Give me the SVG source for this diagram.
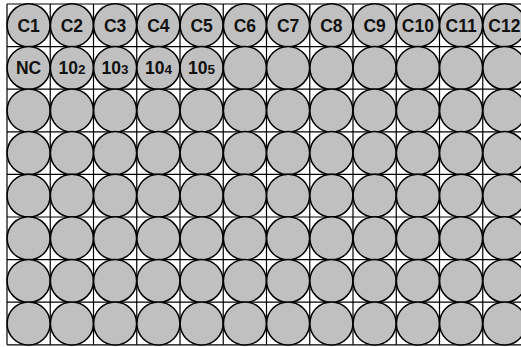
<svg xmlns="http://www.w3.org/2000/svg" width="521" height="347" viewBox="0 0 521 347">
<style>
.grid{stroke:#000;stroke-width:1.2;fill:none}
.well{fill:#c0c0c0;stroke:#000;stroke-width:1.5}
.lbl{font-family:"Liberation Sans",Arial,sans-serif;font-weight:bold;font-size:17.5px;text-anchor:middle;fill:#111}
.sub{font-size:13.5px}
</style>
<rect width="521" height="347" fill="#fff"/>
<g id="grid" class="grid">
<path d="M7,4V344.8M50.25,4V344.8M93.5,4V344.8M136.75,4V344.8M180,4V344.8M223.25,4V344.8M266.5,4V344.8M309.75,4V344.8M353,4V344.8M396.25,4V344.8M439.5,4V344.8M482.75,4V344.8M526,4V344.8"/>
<path d="M7,4H526M7,46.6H526M7,89.2H526M7,131.8H526M7,174.4H526M7,217H526M7,259.6H526M7,302.2H526M7,344.8H526"/>
</g>
<g id="connectors"></g>
<g id="row1">
<g id="C1"><circle class="well" cx="28.6" cy="25.3" r="21.5"/><text class="lbl" x="28.6" y="31.5">C1</text></g>
<g id="C2"><circle class="well" cx="71.9" cy="25.3" r="21.5"/><text class="lbl" x="71.9" y="31.5">C2</text></g>
<g id="C3"><circle class="well" cx="115.1" cy="25.3" r="21.5"/><text class="lbl" x="115.1" y="31.5">C3</text></g>
<g id="C4"><circle class="well" cx="158.4" cy="25.3" r="21.5"/><text class="lbl" x="158.4" y="31.5">C4</text></g>
<g id="C5"><circle class="well" cx="201.6" cy="25.3" r="21.5"/><text class="lbl" x="201.6" y="31.5">C5</text></g>
<g id="C6"><circle class="well" cx="244.9" cy="25.3" r="21.5"/><text class="lbl" x="244.9" y="31.5">C6</text></g>
<g id="C7"><circle class="well" cx="288.1" cy="25.3" r="21.5"/><text class="lbl" x="288.1" y="31.5">C7</text></g>
<g id="C8"><circle class="well" cx="331.4" cy="25.3" r="21.5"/><text class="lbl" x="331.4" y="31.5">C8</text></g>
<g id="C9"><circle class="well" cx="374.6" cy="25.3" r="21.5"/><text class="lbl" x="374.6" y="31.5">C9</text></g>
<g id="C10"><circle class="well" cx="417.9" cy="25.3" r="21.5"/><text class="lbl" x="417.9" y="31.5">C10</text></g>
<g id="C11"><circle class="well" cx="461.1" cy="25.3" r="21.5"/><text class="lbl" x="461.1" y="31.5">C11</text></g>
<g id="C12"><circle class="well" cx="504.4" cy="25.3" r="21.5"/><text class="lbl" x="504.4" y="31.5">C12</text></g>
</g>
<g id="row2">
<g id="NC"><circle class="well" cx="28.6" cy="67.9" r="21.5"/><text class="lbl" x="28.6" y="74.1">NC</text></g>
<g id="d102"><circle class="well" cx="71.9" cy="67.9" r="21.5"/><text class="lbl" x="71.9" y="74.1">10<tspan class="sub">2</tspan></text></g>
<g id="d103"><circle class="well" cx="115.1" cy="67.9" r="21.5"/><text class="lbl" x="115.1" y="74.1">10<tspan class="sub">3</tspan></text></g>
<g id="d104"><circle class="well" cx="158.4" cy="67.9" r="21.5"/><text class="lbl" x="158.4" y="74.1">10<tspan class="sub">4</tspan></text></g>
<g id="d105"><circle class="well" cx="201.6" cy="67.9" r="21.5"/><text class="lbl" x="201.6" y="74.1">10<tspan class="sub">5</tspan></text></g>
<g id="B6"><circle class="well" cx="244.9" cy="67.9" r="21.5"/></g>
<g id="B7"><circle class="well" cx="288.1" cy="67.9" r="21.5"/></g>
<g id="B8"><circle class="well" cx="331.4" cy="67.9" r="21.5"/></g>
<g id="B9"><circle class="well" cx="374.6" cy="67.9" r="21.5"/></g>
<g id="B10"><circle class="well" cx="417.9" cy="67.9" r="21.5"/></g>
<g id="B11"><circle class="well" cx="461.1" cy="67.9" r="21.5"/></g>
<g id="B12"><circle class="well" cx="504.4" cy="67.9" r="21.5"/></g>
</g>
<g id="row3">
<g id="R3C1"><circle class="well" cx="28.6" cy="110.5" r="21.5"/></g>
<g id="R3C2"><circle class="well" cx="71.9" cy="110.5" r="21.5"/></g>
<g id="R3C3"><circle class="well" cx="115.1" cy="110.5" r="21.5"/></g>
<g id="R3C4"><circle class="well" cx="158.4" cy="110.5" r="21.5"/></g>
<g id="R3C5"><circle class="well" cx="201.6" cy="110.5" r="21.5"/></g>
<g id="R3C6"><circle class="well" cx="244.9" cy="110.5" r="21.5"/></g>
<g id="R3C7"><circle class="well" cx="288.1" cy="110.5" r="21.5"/></g>
<g id="R3C8"><circle class="well" cx="331.4" cy="110.5" r="21.5"/></g>
<g id="R3C9"><circle class="well" cx="374.6" cy="110.5" r="21.5"/></g>
<g id="R3C10"><circle class="well" cx="417.9" cy="110.5" r="21.5"/></g>
<g id="R3C11"><circle class="well" cx="461.1" cy="110.5" r="21.5"/></g>
<g id="R3C12"><circle class="well" cx="504.4" cy="110.5" r="21.5"/></g>
</g>
<g id="row4">
<g id="R4C1"><circle class="well" cx="28.6" cy="153.1" r="21.5"/></g>
<g id="R4C2"><circle class="well" cx="71.9" cy="153.1" r="21.5"/></g>
<g id="R4C3"><circle class="well" cx="115.1" cy="153.1" r="21.5"/></g>
<g id="R4C4"><circle class="well" cx="158.4" cy="153.1" r="21.5"/></g>
<g id="R4C5"><circle class="well" cx="201.6" cy="153.1" r="21.5"/></g>
<g id="R4C6"><circle class="well" cx="244.9" cy="153.1" r="21.5"/></g>
<g id="R4C7"><circle class="well" cx="288.1" cy="153.1" r="21.5"/></g>
<g id="R4C8"><circle class="well" cx="331.4" cy="153.1" r="21.5"/></g>
<g id="R4C9"><circle class="well" cx="374.6" cy="153.1" r="21.5"/></g>
<g id="R4C10"><circle class="well" cx="417.9" cy="153.1" r="21.5"/></g>
<g id="R4C11"><circle class="well" cx="461.1" cy="153.1" r="21.5"/></g>
<g id="R4C12"><circle class="well" cx="504.4" cy="153.1" r="21.5"/></g>
</g>
<g id="row5">
<g id="R5C1"><circle class="well" cx="28.6" cy="195.7" r="21.5"/></g>
<g id="R5C2"><circle class="well" cx="71.9" cy="195.7" r="21.5"/></g>
<g id="R5C3"><circle class="well" cx="115.1" cy="195.7" r="21.5"/></g>
<g id="R5C4"><circle class="well" cx="158.4" cy="195.7" r="21.5"/></g>
<g id="R5C5"><circle class="well" cx="201.6" cy="195.7" r="21.5"/></g>
<g id="R5C6"><circle class="well" cx="244.9" cy="195.7" r="21.5"/></g>
<g id="R5C7"><circle class="well" cx="288.1" cy="195.7" r="21.5"/></g>
<g id="R5C8"><circle class="well" cx="331.4" cy="195.7" r="21.5"/></g>
<g id="R5C9"><circle class="well" cx="374.6" cy="195.7" r="21.5"/></g>
<g id="R5C10"><circle class="well" cx="417.9" cy="195.7" r="21.5"/></g>
<g id="R5C11"><circle class="well" cx="461.1" cy="195.7" r="21.5"/></g>
<g id="R5C12"><circle class="well" cx="504.4" cy="195.7" r="21.5"/></g>
</g>
<g id="row6">
<g id="R6C1"><circle class="well" cx="28.6" cy="238.3" r="21.5"/></g>
<g id="R6C2"><circle class="well" cx="71.9" cy="238.3" r="21.5"/></g>
<g id="R6C3"><circle class="well" cx="115.1" cy="238.3" r="21.5"/></g>
<g id="R6C4"><circle class="well" cx="158.4" cy="238.3" r="21.5"/></g>
<g id="R6C5"><circle class="well" cx="201.6" cy="238.3" r="21.5"/></g>
<g id="R6C6"><circle class="well" cx="244.9" cy="238.3" r="21.5"/></g>
<g id="R6C7"><circle class="well" cx="288.1" cy="238.3" r="21.5"/></g>
<g id="R6C8"><circle class="well" cx="331.4" cy="238.3" r="21.5"/></g>
<g id="R6C9"><circle class="well" cx="374.6" cy="238.3" r="21.5"/></g>
<g id="R6C10"><circle class="well" cx="417.9" cy="238.3" r="21.5"/></g>
<g id="R6C11"><circle class="well" cx="461.1" cy="238.3" r="21.5"/></g>
<g id="R6C12"><circle class="well" cx="504.4" cy="238.3" r="21.5"/></g>
</g>
<g id="row7">
<g id="R7C1"><circle class="well" cx="28.6" cy="280.9" r="21.5"/></g>
<g id="R7C2"><circle class="well" cx="71.9" cy="280.9" r="21.5"/></g>
<g id="R7C3"><circle class="well" cx="115.1" cy="280.9" r="21.5"/></g>
<g id="R7C4"><circle class="well" cx="158.4" cy="280.9" r="21.5"/></g>
<g id="R7C5"><circle class="well" cx="201.6" cy="280.9" r="21.5"/></g>
<g id="R7C6"><circle class="well" cx="244.9" cy="280.9" r="21.5"/></g>
<g id="R7C7"><circle class="well" cx="288.1" cy="280.9" r="21.5"/></g>
<g id="R7C8"><circle class="well" cx="331.4" cy="280.9" r="21.5"/></g>
<g id="R7C9"><circle class="well" cx="374.6" cy="280.9" r="21.5"/></g>
<g id="R7C10"><circle class="well" cx="417.9" cy="280.9" r="21.5"/></g>
<g id="R7C11"><circle class="well" cx="461.1" cy="280.9" r="21.5"/></g>
<g id="R7C12"><circle class="well" cx="504.4" cy="280.9" r="21.5"/></g>
</g>
<g id="row8">
<g id="R8C1"><circle class="well" cx="28.6" cy="323.5" r="21.5"/></g>
<g id="R8C2"><circle class="well" cx="71.9" cy="323.5" r="21.5"/></g>
<g id="R8C3"><circle class="well" cx="115.1" cy="323.5" r="21.5"/></g>
<g id="R8C4"><circle class="well" cx="158.4" cy="323.5" r="21.5"/></g>
<g id="R8C5"><circle class="well" cx="201.6" cy="323.5" r="21.5"/></g>
<g id="R8C6"><circle class="well" cx="244.9" cy="323.5" r="21.5"/></g>
<g id="R8C7"><circle class="well" cx="288.1" cy="323.5" r="21.5"/></g>
<g id="R8C8"><circle class="well" cx="331.4" cy="323.5" r="21.5"/></g>
<g id="R8C9"><circle class="well" cx="374.6" cy="323.5" r="21.5"/></g>
<g id="R8C10"><circle class="well" cx="417.9" cy="323.5" r="21.5"/></g>
<g id="R8C11"><circle class="well" cx="461.1" cy="323.5" r="21.5"/></g>
<g id="R8C12"><circle class="well" cx="504.4" cy="323.5" r="21.5"/></g>
</g>
</svg>
